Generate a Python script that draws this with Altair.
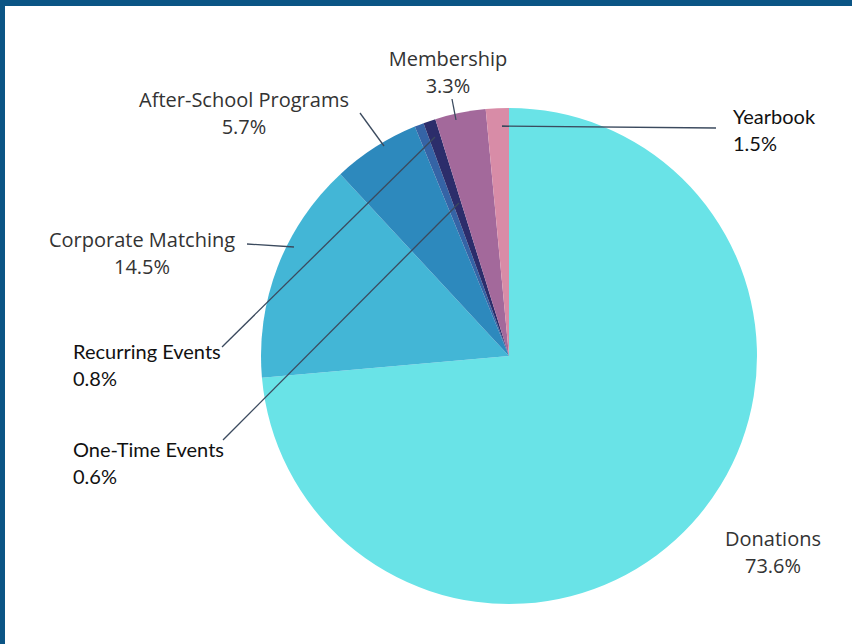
import altair as alt
import pandas as pd

# ---- data ----
categories = ["Donations", "Corporate Matching", "After-School Programs",
              "One-Time Events", "Recurring Events", "Membership", "Yearbook"]
values = [73.6, 14.5, 5.7, 0.6, 0.8, 3.3, 1.5]
pct_labels = ["73.6%", "14.5%", "5.7%", "0.6%", "0.8%", "3.3%", "1.5%"]
colors = ["#69e3e7", "#43b6d6", "#2d89bd", "#3564a6", "#2c2d6b", "#a3699b", "#d88ca7"]

# ---- layout (page pixels) ----
CX, CY, R = 509, 356, 248
label_x = [773, 142, 244, 73, 73, 448, 733]
label_y = [540, 241, 101, 451, 353, 60, 118]
label_align = ["center", "center", "center", "left", "left", "center", "left"]
label_style = ["canva", "canva", "canva", "calibri", "calibri", "canva", "calibri"]
line_gap = 27
leader_cat = ["Corporate Matching", "After-School Programs", "One-Time Events",
              "Recurring Events", "Membership", "Yearbook"]
leader_x1 = [247, 360, 223, 222, 452, 716]
leader_y1 = [244, 113, 440, 347, 99, 128]
leader_x2 = [294, 384, 459, 435, 456, 502]
leader_y2 = [247, 146, 203, 137, 120, 126]

pie_df = pd.DataFrame({"category": categories, "value": values,
                       "order": list(range(len(categories)))})

rows = []
for c, p, x, y, a, s in zip(categories, pct_labels, label_x, label_y, label_align, label_style):
    rows.append({"t": c, "x": x, "y": y, "align": a, "style": s})
    rows.append({"t": p, "x": x, "y": y + line_gap, "align": a, "style": s})
lab_df = pd.DataFrame(rows)

lead_df = pd.DataFrame({"c": leader_cat, "x": leader_x1, "y": leader_y1,
                        "x2": leader_x2, "y2": leader_y2})

border_df = pd.DataFrame({"x": [0, 0], "x2": [852, 5], "y": [0, 0], "y2": [6, 644]})

W, H = 852, 644

pie = alt.Chart(pie_df).mark_arc(outerRadius=R, stroke=None).encode(
    theta=alt.Theta("value:Q", stack=True),
    order=alt.Order("order:Q"),
    color=alt.Color("category:N", scale=alt.Scale(domain=categories, range=colors), legend=None),
    x=alt.value(CX),
    y=alt.value(CY),
)

leaders = alt.Chart(lead_df).mark_rule(color="#3b4a5e", strokeWidth=1.3).encode(
    x=alt.X("x:Q", scale=None), y=alt.Y("y:Q", scale=None),
    x2="x2:Q", y2="y2:Q",
)

def text_layer(style, align, font, color, size, weight="normal"):
    d = lab_df[(lab_df["style"] == style) & (lab_df["align"] == align)]
    return alt.Chart(d).mark_text(align=align, baseline="middle", font=font,
                                  fontSize=size, color=color, fontWeight=weight).encode(
        x=alt.X("x:Q", scale=None), y=alt.Y("y:Q", scale=None), text="t:N")

texts = [
    text_layer("canva", "center", "Open Sans", "#333333", 20),
    text_layer("calibri", "left", "Lato", "#111111", 20, 400),
]

border = alt.Chart(border_df).mark_rect(color="#0b5585").encode(
    x=alt.X("x:Q", scale=None), x2="x2:Q",
    y=alt.Y("y:Q", scale=None), y2="y2:Q",
)

chart = alt.layer(pie, leaders, *texts, border).properties(
    width=W, height=H,
    autosize=alt.AutoSizeParams(type="none"),
    padding=0,
    background="#ffffff",
).configure_view(stroke=None)

chart.save("out.html", embed_options={"renderer": "svg", "actions": False})
